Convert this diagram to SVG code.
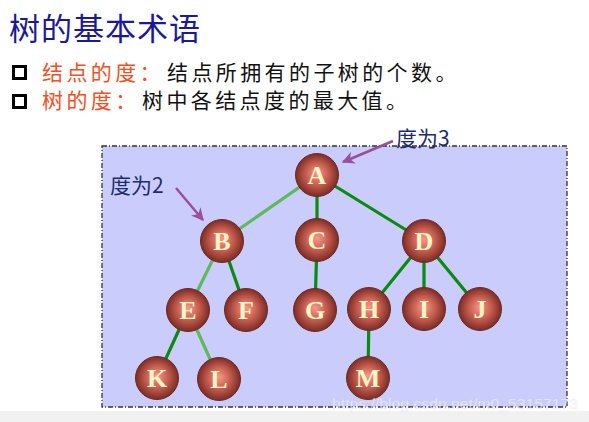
<svg xmlns="http://www.w3.org/2000/svg" width="589" height="422" viewBox="0 0 589 422">
<defs>
<radialGradient id="ball" cx="50%" cy="50%" r="50%" fx="50%" fy="45%">
<stop offset="0" stop-color="#f7998b"/>
<stop offset="0.55" stop-color="#c25a4d"/>
<stop offset="1" stop-color="#7a2c25"/>
</radialGradient>
<marker id="ah" viewBox="0 0 10 10" refX="9" refY="5" markerWidth="5" markerHeight="5" orient="auto">
<path d="M0,0 L10,5 L0,10 L3,5 Z" fill="#9a4e9c"/>
</marker>
<style>
.ttl{font-family:"Noto Sans CJK SC","Liberation Sans",sans-serif;font-size:31px;fill:#1a1a96;letter-spacing:1px}
.body{font-family:"Noto Sans CJK SC","Liberation Sans",sans-serif;font-size:21px;letter-spacing:3.4px}
.hl{fill:#f4501e}
.tx{fill:#111}
.bul{fill:none;stroke:#000;stroke-width:3}
.lbl{font-family:"Noto Sans CJK SC","Liberation Sans",sans-serif;font-size:21px;fill:#1e2b6e}
.node circle{fill:url(#ball);stroke:#6e2a24;stroke-width:1}
.node text{font-family:"Liberation Serif",serif;font-weight:bold;font-size:26px;fill:#fff4c4;text-anchor:middle}
.e{stroke:#0b8a10;stroke-width:3.2}
.el{stroke:#5cba5c;stroke-width:3.2}
.arr{stroke:#9a4e9c;stroke-width:2.5;fill:none;marker-end:url(#ah)}
</style>
</defs>
<rect width="589" height="422" fill="#ffffff"/>
<rect x="0" y="411" width="589" height="11" fill="#f1f1f1"/>
<text class="ttl" x="9" y="40">树的基本术语</text>
<rect class="bul" x="13.5" y="66.5" width="12" height="12"/>
<rect class="bul" x="13.5" y="95.5" width="12" height="12"/>
<text class="body hl" x="42" y="80">结点的度：</text>
<text class="body tx" x="167" y="80">结点所拥有的子树的个数。</text>
<text class="body hl" x="42" y="108">树的度：</text>
<text class="body tx" x="142" y="108">树中各结点度的最大值。</text>
<rect x="102" y="146" width="465" height="261" fill="#cacdfb" stroke="#333" stroke-width="1.3" stroke-dasharray="5,2,1,2"/>
<g id="connectors">
<line class="el" x1="317" y1="175" x2="222" y2="241"/>
<line class="e" x1="317" y1="175" x2="317" y2="240"/>
<line class="e" x1="317" y1="175" x2="424" y2="241"/>
<line class="el" x1="222" y1="241" x2="188" y2="310"/>
<line class="e" x1="222" y1="241" x2="246" y2="310"/>
<line class="e" x1="317" y1="240" x2="315" y2="310"/>
<line class="e" x1="424" y1="241" x2="369" y2="309"/>
<line class="e" x1="424" y1="241" x2="424" y2="309"/>
<line class="e" x1="424" y1="241" x2="480" y2="309"/>
<line class="e" x1="188" y1="310" x2="157" y2="378"/>
<line class="el" x1="188" y1="310" x2="219" y2="379"/>
<line class="e" x1="369" y1="309" x2="368" y2="378"/>
</g>
<g id="A" class="node"><circle cx="317" cy="175" r="21.5"/><text x="317" y="184">A</text></g>
<g id="B" class="node"><circle cx="222" cy="241" r="21.5"/><text x="222" y="250">B</text></g>
<g id="C" class="node"><circle cx="317" cy="240" r="21.5"/><text x="317" y="249">C</text></g>
<g id="D" class="node"><circle cx="424" cy="241" r="21.5"/><text x="424" y="250">D</text></g>
<g id="E" class="node"><circle cx="188" cy="310" r="21.5"/><text x="188" y="319">E</text></g>
<g id="F" class="node"><circle cx="246" cy="310" r="21.5"/><text x="246" y="319">F</text></g>
<g id="G" class="node"><circle cx="315" cy="310" r="21.5"/><text x="315" y="319">G</text></g>
<g id="H" class="node"><circle cx="369" cy="309" r="21.5"/><text x="369" y="318">H</text></g>
<g id="I" class="node"><circle cx="424" cy="309" r="21.5"/><text x="424" y="318">I</text></g>
<g id="J" class="node"><circle cx="480" cy="309" r="21.5"/><text x="480" y="318">J</text></g>
<g id="K" class="node"><circle cx="157" cy="378" r="21.5"/><text x="157" y="387">K</text></g>
<g id="L" class="node"><circle cx="219" cy="379" r="21.5"/><text x="219" y="388">L</text></g>
<g id="M" class="node"><circle cx="368" cy="378" r="21.5"/><text x="368" y="387">M</text></g>
<g id="note2"><text class="lbl" x="110" y="193">度为2</text><path class="arr" d="M176,188 L203,220"/></g>
<g id="note3"><text class="lbl" x="396" y="146">度为3</text><path class="arr" d="M393,141 L343,162"/></g>
<text x="332" y="409" font-family="Liberation Sans,sans-serif" font-size="15" fill="#ffffff" fill-opacity="0.6" stroke="#c8c8d0" stroke-opacity="0.35" stroke-width="0.5" textLength="246" lengthAdjust="spacingAndGlyphs">https://blog.csdn.net/m0_53157173</text>
</svg>
